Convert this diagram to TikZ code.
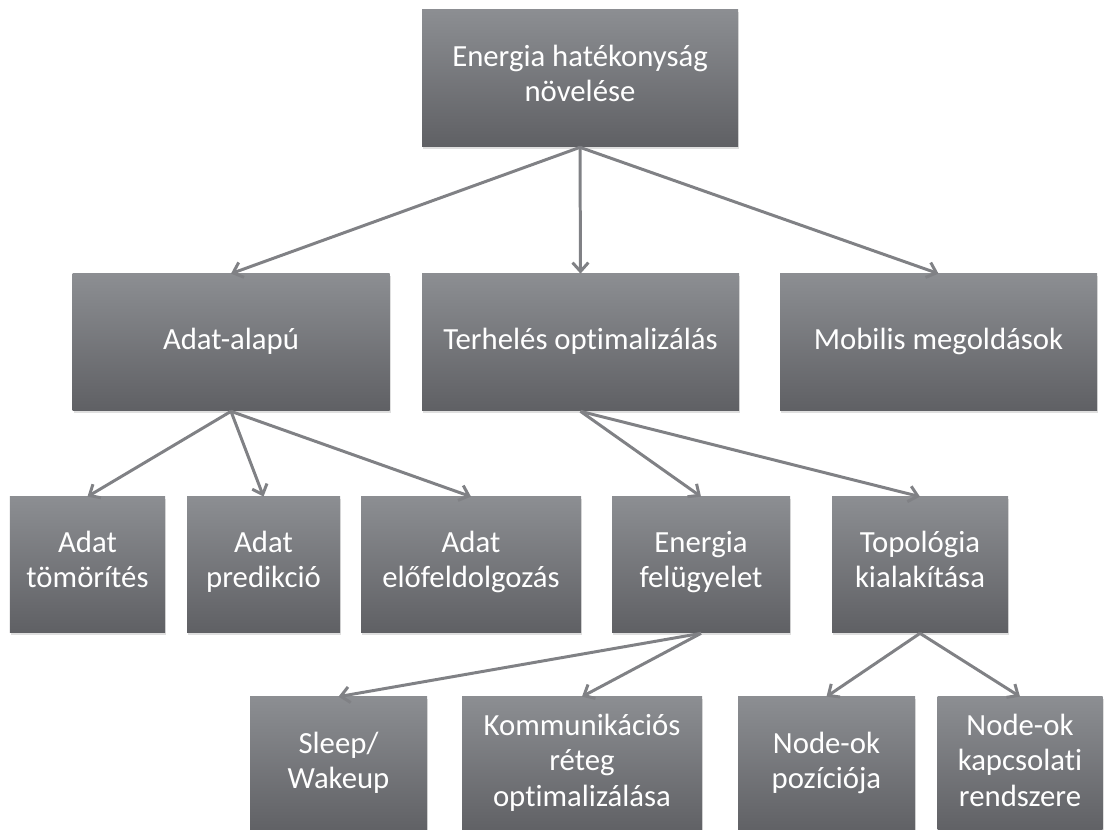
\documentclass[tikz,border=0pt]{standalone}
\usepackage{fontspec}
\setmainfont{Carlito}[Ligatures={NoCommon}]
\usetikzlibrary{arrows.meta,shadows}

\definecolor{boxtop}{HTML}{8C8E92}
\definecolor{boxbot}{HTML}{5F6064}
\definecolor{linkgray}{HTML}{808185}

\begin{document}
\begin{tikzpicture}[
    box/.style={rectangle, top color=boxtop, bottom color=boxbot, draw=none,
      text=white, align=center, inner sep=2pt,
      font=\fontsize{17.5}{20}\selectfont,
      execute at begin node=\strut, execute at end node=\strut,
      drop shadow={shadow xshift=0.6pt, shadow yshift=-1.2pt, opacity=0.25}},
    link/.style={-{Straight Barb[length=5pt,width=9pt]}, draw=linkgray, line width=1.7pt}
  ]
      % \draw[help lines](0,0) grid (22,16);

      % Bounding box
      \useasboundingbox (0,0) rectangle (22.22,16.6);

      \draw (11.60,15.03) node (goal)[box, minimum width=6.32cm, minimum height=2.74cm] {Energia hatékonyság\\növelése};

      \draw (4.62,9.75) node (data)[box, minimum width=6.34cm, minimum height=2.74cm] {Adat-alapú};
      \draw (11.61,9.75) node (load)[box, minimum width=6.34cm, minimum height=2.74cm] {Terhelés optimalizálás};
      \draw (18.77,9.75) node (mobile)[box, minimum width=6.34cm, minimum height=2.74cm] {Mobilis megoldások};

      \draw (1.75,5.30) node (compr)[box, minimum width=3.10cm, minimum height=2.72cm] {Adat\\tömörítés};
      \draw (5.27,5.30) node (pred)[box, minimum width=3.06cm, minimum height=2.72cm] {Adat\\predikció};
      \draw (9.42,5.30) node (prep)[box, minimum width=4.40cm, minimum height=2.72cm] {Adat\\előfeldolgozás};
      \draw (14.02,5.30) node (monitor)[box, minimum width=3.56cm, minimum height=2.72cm] {Energia\\felügyelet};
      \draw (18.40,5.30) node (topo)[box, minimum width=3.52cm, minimum height=2.72cm] {Topológia\\kialakítása};

      \draw (6.77,1.29) node (sleep)[box, minimum width=3.54cm, minimum height=2.74cm] {Sleep/\\Wakeup};
      \draw (11.64,1.29) node (comm)[box, minimum width=4.80cm, minimum height=2.74cm] {Kommunikációs\\réteg\\optimalizálása};
      \draw (16.53,1.29) node (pos)[box, minimum width=3.54cm, minimum height=2.74cm] {Node-ok\\pozíciója};
      \draw (20.40,1.29) node (conn)[box, minimum width=3.30cm, minimum height=2.74cm] {Node-ok\\kapcsolati\\rendszere};

      \draw [link] (goal.south) -- (data.north);
      \draw [link] (goal.south) -- (load.north);
      \draw [link] (goal.south) -- (mobile.north);
      \draw [link] (data.south) -- (compr.north);
      \draw [link] (data.south) -- (pred.north);
      \draw [link] (data.south) -- (prep.north);
      \draw [link] (load.south) -- (monitor.north);
      \draw [link] (load.south) -- (topo.north);
      \draw [link] (monitor.south) -- (sleep.north);
      \draw [link] (monitor.south) -- (comm.north);
      \draw [link] (topo.south) -- (pos.north);
      \draw [link] (topo.south) -- (conn.north);
    \end{tikzpicture}
\end{document}
